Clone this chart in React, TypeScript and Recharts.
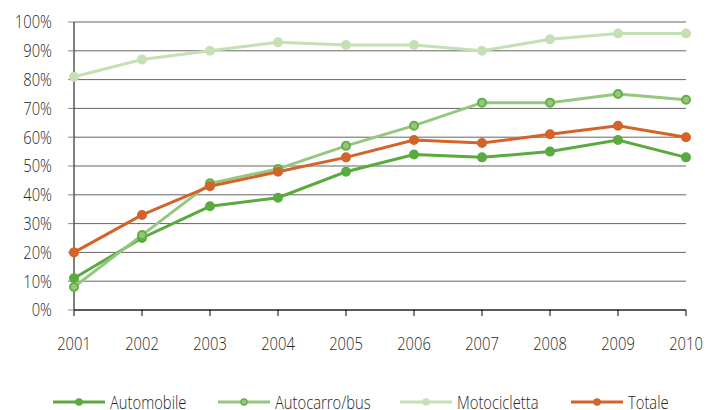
import React from 'react';
import { LineChart, Line, XAxis, YAxis, CartesianGrid } from 'recharts';

const years = ['2001', '2002', '2003', '2004', '2005', '2006', '2007', '2008', '2009', '2010'];
const automobile = [11, 25, 36, 39, 48, 54, 53, 55, 59, 53];
const autocarroBus = [8, 26, 44, 49, 57, 64, 72, 72, 75, 73];
const motocicletta = [81, 87, 90, 93, 92, 92, 90, 94, 96, 96];
const totale = [20, 33, 43, 48, 53, 59, 58, 61, 64, 60];
const yTicks = [0, 10, 20, 30, 40, 50, 60, 70, 80, 90, 100];

const font = "'Open Sans', 'Noto Sans', sans-serif";
const textColor = '#262626';
const squeeze = 0.82; // the original font is a narrow one

const series = [
    { key: 'automobile', name: 'Automobile', stroke: '#5aab3f', dotStroke: '#5aab3f', dotFill: '#5aab3f', left: 53 },
    { key: 'autocarro', name: 'Autocarro/bus', stroke: '#95c77e', dotStroke: '#62b046', dotFill: '#95c77e', left: 218 },
    { key: 'moto', name: 'Motocicletta', stroke: '#c6e0b5', dotStroke: '#c6e0b5', dotFill: '#c6e0b5', left: 400 },
    { key: 'totale', name: 'Totale', stroke: '#d4632a', dotStroke: '#d4632a', dotFill: '#d4632a', left: 571 },
];

const chartData = years.map((year, i) => ({
    year,
    automobile: automobile[i],
    autocarro: autocarroBus[i],
    moto: motocicletta[i],
    totale: totale[i],
}));

function XTick(props: any) {
    const { x, y, payload } = props;
    return (
        <g transform={`translate(${x},${y})`}>
            <text transform={`scale(${squeeze},1)`} textAnchor="middle" dy="0.71em"
                fill={textColor} fontSize={18} fontFamily={font} fontWeight={300}>
                {payload.value}
            </text>
        </g>
    );
}

function YTick(props: any) {
    const { x, y, payload } = props;
    return (
        <g transform={`translate(${x},${y})`}>
            <text transform={`scale(${squeeze},1)`} textAnchor="end" dy="0.355em"
                fill={textColor} fontSize={18} fontFamily={font} fontWeight={300}>
                {`${payload.value}%`}
            </text>
        </g>
    );
}

function LegendBox() {
    return (
        <div style={{ position: 'absolute', left: 0, top: 392, width: 706, height: 20 }}>
            {series.map(s => (
                <div key={s.key} style={{
                    position: 'absolute', left: s.left, top: 0, height: 20,
                    display: 'flex', alignItems: 'center', whiteSpace: 'nowrap',
                }}>
                    <svg width={52} height={10} style={{ marginRight: 5 }}>
                        <line x1={0} y1={5} x2={52} y2={5} stroke={s.stroke} strokeWidth={3} />
                        <circle cx={26} cy={5} r={3} fill={s.dotFill} stroke={s.dotStroke} strokeWidth={1.5} />
                    </svg>
                    <span style={{
                        display: 'inline-block', transform: `scaleX(${squeeze})`, transformOrigin: 'left center',
                        fontFamily: font, fontSize: 18, fontWeight: 300, color: textColor, lineHeight: '20px',
                    }}>{s.name}</span>
                </div>
            ))}
        </div>
    );
}

export default function App() {
    return (
        <div style={{ position: 'absolute', left: 0, top: 0, width: 706, height: 410, background: '#fff', overflow: 'hidden' }}>
            <LineChart width={706} height={410} data={chartData}
                margin={{ top: 22, right: 20, left: 0, bottom: 40 }}>
                <CartesianGrid vertical={false} stroke="#666" strokeWidth={1} />
                <XAxis dataKey="year" height={60} interval={0}
                    axisLine={{ stroke: '#000' }} tickLine={{ stroke: '#000' }}
                    tickSize={6} tickMargin={21} tick={<XTick />} />
                <YAxis width={74} domain={[0, 100]} ticks={yTicks} interval={0}
                    axisLine={{ stroke: '#000' }} tickLine={{ stroke: '#888' }}
                    tickSize={6} tickMargin={16} tick={<YTick />} />
                {series.map(s => (
                    <Line key={s.key} type="linear" dataKey={s.key} name={s.name}
                        stroke={s.stroke} strokeWidth={3}
                        dot={{ r: 4, fill: s.dotFill, stroke: s.dotStroke, strokeWidth: 2 }}
                        isAnimationActive={false} />
                ))}
            </LineChart>
            <LegendBox />
        </div>
    );
}
